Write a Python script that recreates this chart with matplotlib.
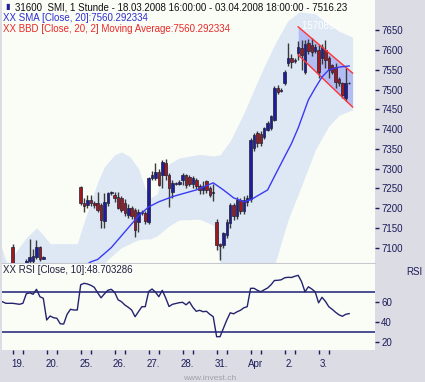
import matplotlib
matplotlib.use("Agg")
import matplotlib.pyplot as plt

plt.rcParams['font.family'] = ['Liberation Sans', 'DejaVu Sans']

# hourly bars, index 0 = 18.03.2008 16:00, 10 bars per trading day
bar_idx = [3, 7, 8, 9, 10, 11, 12,
           23, 24, 25, 26, 27, 28, 29, 30, 31, 32,
           33, 34, 35, 36, 37, 38, 39, 40, 41, 42,
           43, 44, 45, 46, 47, 48, 49, 50, 51, 52,
           53, 54, 55, 56, 57, 58, 59, 60, 61, 62,
           63, 64, 65, 66, 67, 68, 69, 70, 71, 72,
           73, 74, 75, 76, 77, 78, 79, 80, 81, 82,
           83, 84, 85, 86, 87, 88, 89, 90, 91, 92,
           93, 94, 95, 96, 97, 98, 99, 100, 101, 102]
opens = [7101, 7050, 7067, 7067, 7076, 7101, 7072,
         7253, 7212, 7208, 7221, 7213, 7213, 7208, 7168, 7212, 7238,
         7232, 7229, 7226, 7213, 7183, 7200, 7195, 7165, 7190, 7188,
         7166, 7276, 7276, 7292, 7284, 7315, 7284, 7242, 7263, 7262,
         7270, 7283, 7280, 7260, 7270, 7255, 7247, 7268, 7250, 7238,
         7166, 7110, 7107, 7132, 7162, 7208, 7179, 7221, 7192, 7215,
         7222, 7352, 7390, 7388, 7380, 7398, 7402, 7423, 7503, 7497,
         7516, 7568, 7580, 7572, 7592, 7605, 7545, 7617, 7612, 7598,
         7600, 7580, 7600, 7580, 7562, 7558, 7528, 7516, 7478, 7516]
highs = [7110, 7070, 7122, 7097, 7118, 7105, 7078,
         7256, 7225, 7232, 7234, 7218, 7242, 7212, 7238, 7242, 7244,
         7240, 7240, 7230, 7222, 7210, 7205, 7200, 7198, 7195, 7192,
         7280, 7295, 7315, 7300, 7322, 7325, 7290, 7270, 7266, 7270,
         7290, 7287, 7285, 7282, 7275, 7262, 7268, 7272, 7255, 7262,
         7172, 7112, 7140, 7172, 7212, 7212, 7228, 7225, 7230, 7232,
         7378, 7390, 7395, 7395, 7405, 7420, 7436, 7508, 7512, 7503,
         7550, 7617, 7590, 7580, 7622, 7626, 7625, 7628, 7632, 7615,
         7612, 7615, 7625, 7585, 7566, 7568, 7532, 7520, 7555, 7520]
lows = [7030, 7040, 7055, 7055, 7072, 7065, 7070,
        7208, 7190, 7200, 7205, 7200, 7190, 7150, 7150, 7205, 7234,
        7215, 7197, 7190, 7180, 7175, 7172, 7127, 7140, 7183, 7160,
        7160, 7272, 7272, 7255, 7250, 7270, 7204, 7225, 7258, 7258,
        7258, 7250, 7255, 7250, 7248, 7235, 7235, 7238, 7228, 7218,
        7095, 7068, 7100, 7125, 7150, 7170, 7172, 7185, 7185, 7205,
        7215, 7345, 7355, 7358, 7375, 7395, 7398, 7420, 7490, 7495,
        7512, 7560, 7555, 7568, 7575, 7550, 7540, 7590, 7585, 7592,
        7530, 7565, 7555, 7530, 7540, 7505, 7510, 7480, 7470, 7514]
closes = [7045, 7067, 7076, 7078, 7101, 7070, 7075,
          7213, 7205, 7220, 7213, 7208, 7195, 7170, 7215, 7238, 7240,
          7225, 7200, 7196, 7187, 7200, 7179, 7145, 7190, 7188, 7168,
          7276, 7284, 7292, 7259, 7318, 7284, 7250, 7263, 7262, 7266,
          7283, 7258, 7262, 7275, 7255, 7245, 7255, 7245, 7232, 7242,
          7107, 7105, 7137, 7166, 7208, 7179, 7221, 7192, 7220, 7225,
          7373, 7385, 7365, 7365, 7403, 7415, 7432, 7503, 7495, 7500,
          7545, 7580, 7570, 7575, 7609, 7588, 7615, 7597, 7595, 7608,
          7545, 7609, 7575, 7550, 7545, 7520, 7516, 7487, 7516, 7516.23]

# SMA 20
sma_idx = [20, 26, 28, 32, 34, 37, 40, 43, 46, 50, 52, 57, 62, 65, 68, 71, 73,
           76, 78, 80, 83, 85, 87, 90, 92, 94, 96, 99, 102]
sma = [7030, 7064, 7070, 7100, 7120, 7150, 7180, 7203, 7216, 7229, 7234, 7246,
       7264, 7246, 7226, 7216, 7221, 7236, 7246, 7280, 7330, 7363, 7403, 7474,
       7504, 7532, 7550, 7557, 7560]

# Bollinger band (20, 2)
band_idx = [-1, 1.5, 4, 7, 10, 12, 14, 22, 24, 26, 28, 30, 33, 35, 37.5, 40, 42,
            43.5, 45.5, 47, 49, 52, 58, 62, 64, 67, 71, 76, 80, 84, 87.5, 92, 96,
            99, 103]
band_up = [7118, 7055, 7090, 7125, 7150, 7132, 7110, 7110, 7165, 7215, 7266,
           7305, 7335, 7342, 7330, 7300, 7250, 7226, 7236, 7284, 7312, 7327,
           7336, 7332, 7335, 7370, 7440, 7540, 7613, 7675, 7697, 7692, 7665,
           7648, 7633]
band_lo = [6950, 6950, 6950, 6950, 6950, 6950, 6950, 6950, 6960, 6990, 7030,
           7062, 7085, 7100, 7110, 7120, 7122, 7122, 7130, 7140, 7155, 7170,
           7172, 7157, 7060, 6980, 6950, 6950, 7055, 7170, 7246, 7347, 7408,
           7435, 7449]

# regression channel
chan_idx = [87, 103]
chan_top = [7659, 7542]
chan_bot = [7588, 7456]

# RSI 10, one value per bar
rsi = [60.5, 59, 59, 59, 58.5, 58, 59, 68.5, 69.5, 68,
       73, 65.6, 64, 42.3, 46.3, 44.6, 44, 38.5, 38.3, 48,
       53, 52.3, 52.3, 77.5, 79, 78.3, 77, 75, 69.5, 64.5,
       68.5, 72, 73, 70, 62.5, 60.6, 57.3, 55, 52.3, 45.6,
       50.6, 55.6, 55.6, 70.8, 73.3, 70.2, 65.6, 72, 64.5, 55.8,
       58, 58.8, 59.6, 60, 57.5, 60.5, 55, 51, 52, 50.6,
       51, 48, 45.6, 25.6, 25.6, 34, 42.3, 49.5, 48.5, 50.5,
       52, 54.5, 55.6, 74, 74, 72, 70.5, 72.5, 74.3, 77.5,
       81.8, 82, 82.5, 84.5, 85, 84.8, 86, 87, 80.6, 70.5,
       75.5, 73.3, 70.5, 59.5, 65, 61, 55.6, 53, 50, 47.5,
       46, 48, 48.7]

day_labels = ["19.", "20.", "25.", "26.", "27.", "28.", "31.", "Apr", "2.", "3."]
price_ticks = list(range(7100, 7651, 50))
rsi_ticks = [20, 40, 60]

W, H = 425, 382
navy = '#1c1c5a'
fig = plt.figure(figsize=(W / 100, H / 100), dpi=100)
fig.patch.set_facecolor('#dcdce4')

ax = fig.add_axes([2 / W, (H - 263) / H, 373 / W, 263 / H])
ax2 = fig.add_axes([2 / W, (H - 350) / H, 373 / W, 86 / H])
xlim = (-0.15, 109.6)

for a in (ax, ax2):
    a.set_facecolor('#fafcf6')
    a.set_xlim(*xlim)
    for s in a.spines.values():
        s.set_visible(False)
    a.yaxis.tick_right()
    a.tick_params(axis='y', direction='out', length=3, width=1, pad=1.5,
                  labelsize=7, colors=navy)
ax.spines['bottom'].set_visible(True)
ax.spines['bottom'].set_color('#c8c8d0')

# price panel
ax.set_ylim(7061, 7727)
ax.set_yticks(price_ticks)
ax.set_xticks([])
ax.fill_between(band_idx, band_lo, band_up, color='#dde8f4', lw=0, zorder=1)
ax.fill_between(chan_idx, chan_bot, chan_top, color='#b3bcf3', lw=0, zorder=2)
ax.plot(chan_idx, chan_top, color='#ff3333', lw=1, zorder=5)
ax.plot(chan_idx, chan_bot, color='#ff3333', lw=1, zorder=5)
ax.text(88, 7660, '157089 L', color='white', fontsize=7, va='center', zorder=6)

up = [c >= o for o, c in zip(opens, closes)]
ax.vlines(bar_idx, lows, highs, color='#3a3a3a', lw=1, zorder=3)
ax.bar(bar_idx, [c - o for o, c in zip(opens, closes)], bottom=opens, width=0.75,
       color=['#1e1e9a' if u else '#a51818' for u in up],
       edgecolor='#20203a', linewidth=0.5, zorder=4)
ax.plot(sma_idx, sma, color='#3a3af5', lw=1, zorder=5)

# legend texts
fig.text(5 / W, 1 - 7 / H, '\u25AE', color='#1e1e9a', fontsize=6, va='center')
fig.text(15 / W, 1 - 7 / H,
         '31600  SMI, 1 Stunde - 18.03.2008 16:00:00 - 03.04.2008 18:00:00 - 7516.23',
         color='#101010', fontsize=7, va='center')
fig.text(3 / W, 1 - 18 / H, 'XX SMA [Close, 20]:7560.292334', color='#2f2fd0',
         fontsize=7, va='center')
fig.text(3 / W, 1 - 29 / H, 'XX BBD [Close, 20, 2] Moving Average:7560.292334',
         color='#e82a2a', fontsize=7, va='center')

# RSI panel
ax2.set_ylim(12.3, 98.3)
ax2.set_yticks(rsi_ticks)
ax2.plot(range(len(rsi)), rsi, color='#24246e', lw=1, zorder=3)
ax2.axhline(70, color='#303080', lw=1.2, zorder=2)
ax2.axhline(30, color='#303080', lw=1.2, zorder=2)
fig.text(3 / W, 1 - 270 / H, 'XX RSI [Close, 10]:48.703286', color='#202040',
         fontsize=7, va='center')
fig.text(414 / W, 1 - 272 / H, 'RSI', color=navy, fontsize=7, ha='center', va='center')

day_starts = [3 + 10 * k for k in range(len(day_labels))]
ax2.set_xticks([d for d in day_starts] + [d + 3 for d in day_starts])
ax2.tick_params(axis='x', which='major', direction='out', length=3, width=1,
                colors=navy, labelbottom=False)
ax2.set_xticks([d + 1.5 for d in day_starts], minor=True)
ax2.set_xticklabels(day_labels, minor=True)
ax2.tick_params(axis='x', which='minor', length=0, pad=6.5, labelsize=7, colors=navy)

fig.text(210 / W, 1 - 378 / H, 'www.invest.ch', color='#a0a0aa', fontsize=6,
         ha='center', va='center')

fig.savefig('out.png', dpi=100, facecolor=fig.get_facecolor())
